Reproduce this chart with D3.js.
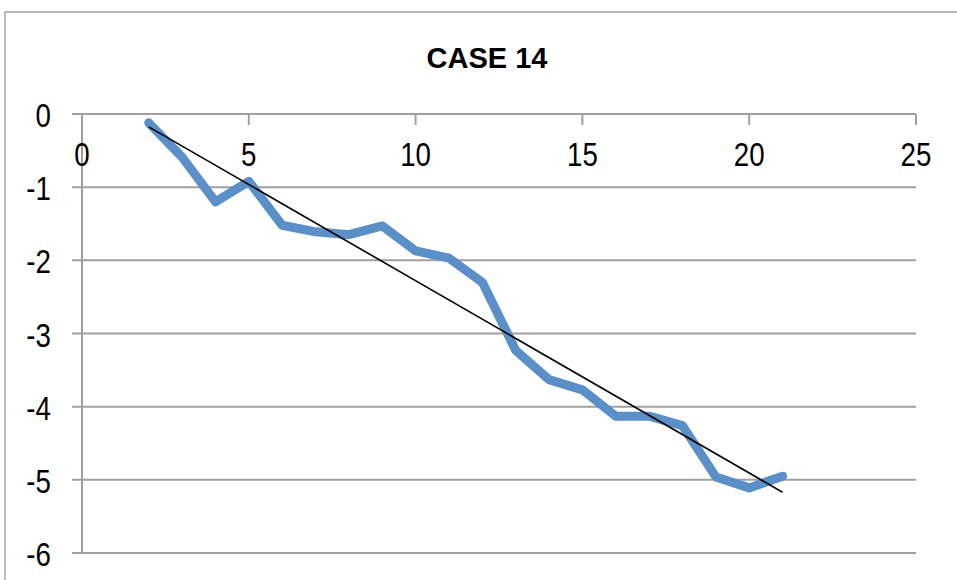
<!DOCTYPE html>
<html><head><meta charset="utf-8">
<script src="https://cdn.jsdelivr.net/npm/d3@7"></script>
<style>body{margin:0;background:#fff;}svg{display:block;}</style>
</head><body>
<svg id="c" width="957" height="580"></svg>
<script>
const title = "CASE 14";
const xValues = [2,3,4,5,6,7,8,9,10,11,12,13,14,15,16,17,18,19,20,21];
const yValues = [-0.12,-0.59,-1.2,-0.92,-1.52,-1.61,-1.65,-1.53,-1.87,-1.97,-2.3,-3.23,-3.63,-3.77,-4.13,-4.13,-4.26,-4.96,-5.11,-4.95];
const xTicks = [0,5,10,15,20,25];
const yTicks = [0,-1,-2,-3,-4,-5,-6];

const svg = d3.select("#c");
const font = "'Liberation Sans', Arial, sans-serif";
// outer border
svg.append("rect").attr("x",5).attr("y",12).attr("width",1000).attr("height",600)
  .attr("fill","none").attr("stroke","#a6a6a6").attr("stroke-width",1.5);

const x = d3.scaleLinear().domain([0,25]).range([82,916]);
const y = d3.scaleLinear().domain([-6,0]).range([553,114]);

// gridlines
svg.append("g").selectAll("line").data(yTicks).join("line")
  .attr("x1",72).attr("x2",916).attr("y1",d=>y(d)).attr("y2",d=>y(d))
  .attr("stroke","#a0a0a0").attr("stroke-width",2);
// y axis line
svg.append("line").attr("x1",x(0)).attr("x2",x(0)).attr("y1",y(0)).attr("y2",y(-6))
  .attr("stroke","#a0a0a0").attr("stroke-width",2);
// x ticks (downwards from y=0 axis)
svg.append("g").selectAll("line").data(xTicks).join("line")
  .attr("x1",d=>x(d)).attr("x2",d=>x(d)).attr("y1",y(0)).attr("y2",y(0)+11)
  .attr("stroke","#a0a0a0").attr("stroke-width",2);

// labels (condensed look)
svg.append("g").selectAll("text").data(xTicks).join("text")
  .attr("transform",d=>`translate(${x(d)},166) scale(0.84,1)`).attr("text-anchor","middle")
  .attr("font-family",font).attr("font-size",33).attr("fill","#000").text(d=>d);
svg.append("g").selectAll("text").data(yTicks).join("text")
  .attr("transform",d=>`translate(51,${y(d)+13}) scale(0.84,1)`).attr("text-anchor","end")
  .attr("font-family",font).attr("font-size",33).attr("fill","#000").text(d=>d);

svg.append("text").attr("x",487).attr("y",68).attr("text-anchor","middle")
  .attr("font-family",font).attr("font-weight","bold").attr("font-size",29).text(title);

const data = xValues.map((v,i)=>[v,yValues[i]]);
svg.append("path").datum(data)
  .attr("d",d3.line().x(d=>x(d[0])).y(d=>y(d[1])))
  .attr("fill","none").attr("stroke","#5b8fc8").attr("stroke-width",9)
  .attr("stroke-linejoin","round").attr("stroke-linecap","round");

// linear trendline (least squares)
const n = data.length;
const mx = d3.mean(xValues), my = d3.mean(yValues);
const slope = d3.sum(data,d=>(d[0]-mx)*(d[1]-my))/d3.sum(data,d=>(d[0]-mx)**2);
const icpt = my - slope*mx;
const tl = [xValues[0], xValues[n-1]].map(v=>[v, icpt+slope*v]);
svg.append("path").datum(tl)
  .attr("d",d3.line().x(d=>x(d[0])).y(d=>y(d[1])))
  .attr("fill","none").attr("stroke","#000").attr("stroke-width",1.6);
</script>
</body></html>
